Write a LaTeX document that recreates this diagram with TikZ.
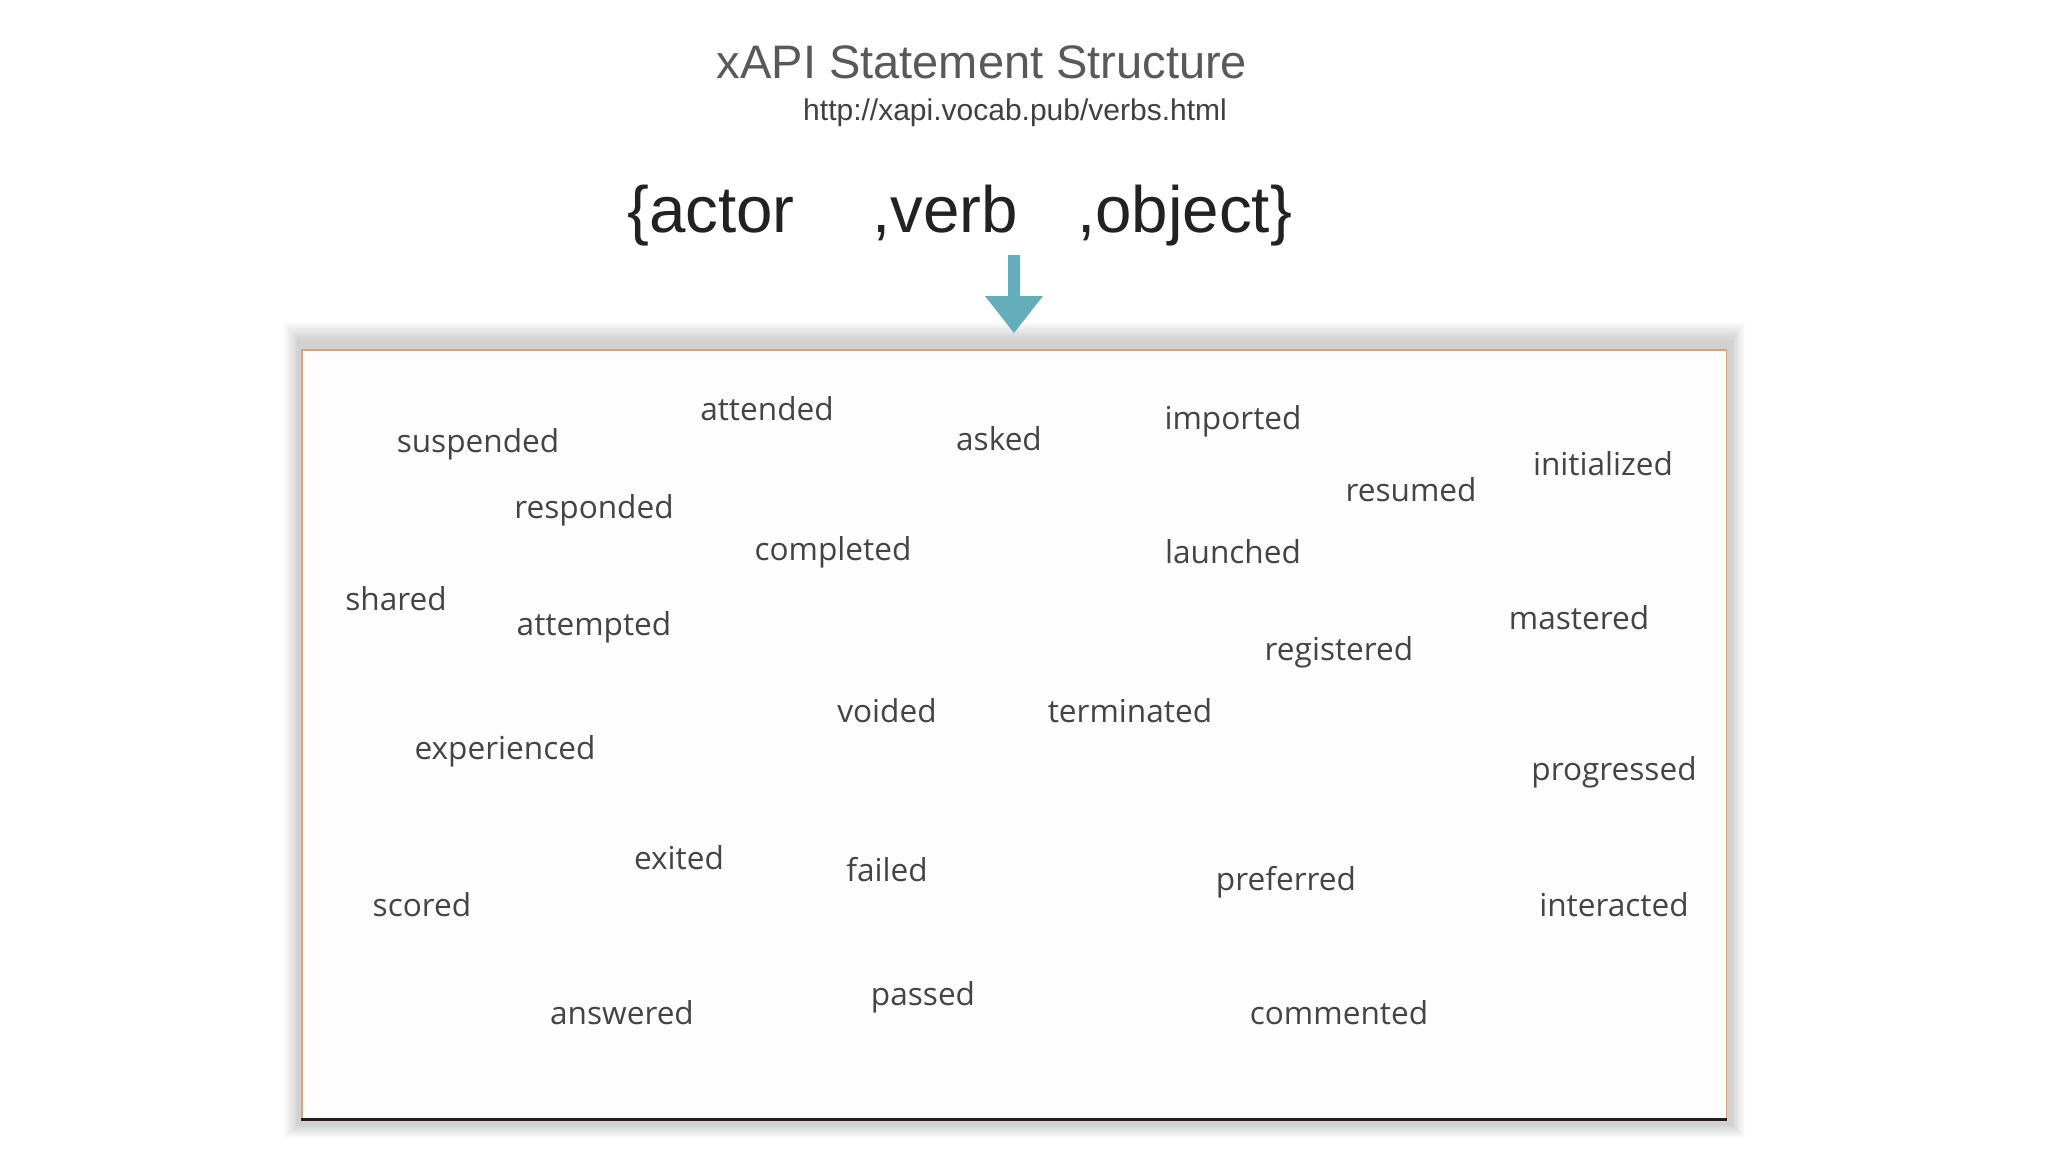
\documentclass[tikz,border=0pt]{standalone}
\usepackage{fontspec}
\setmainfont{Liberation Sans}
\newfontfamily\verbfont{Open Sans}
\definecolor{titlegray}{HTML}{595959}
\definecolor{urlgray}{HTML}{404040}
\definecolor{bracedark}{HTML}{222222}
\definecolor{verbgray}{HTML}{444444}
\definecolor{arrowteal}{HTML}{63AEBA}
\definecolor{shadowC}{HTML}{C8CACC}
\definecolor{edgetan}{HTML}{D8A27A}
\definecolor{edgedark}{HTML}{2B1B12}
\definecolor{paper}{HTML}{FDFDFD}
\tikzset{
  verbword/.style={inner sep=0pt, yshift=-3pt, text=verbgray, font=\verbfont\fontsize{31.6}{36}\selectfont},
  bracetext/.style={inner sep=0pt, anchor=base west, text=bracedark, font=\fontsize{65.5}{75}\selectfont},
}
\begin{document}
\begin{tikzpicture}[x=1pt,y=-1pt]
\useasboundingbox (0,0) rectangle (2048,1152);
\fill[white] (0,0) rectangle (2048,1152);
% title
\node[inner sep=0pt, anchor=base, text=titlegray, font=\fontsize{47}{54}\selectfont] (title) at (982,78) {xAPI Statement Structure};
\node[inner sep=0pt, anchor=base, text=urlgray, font=\fontsize{30}{36}\selectfont] (url) at (1015,120) {http://xapi.vocab.pub/verbs.html};
% statement
\node[bracetext] (actor) at (627,232) {\{actor};
\node[bracetext] (verb) at (872,232) {,verb};
\node[bracetext] (object) at (1077,232) {,object\}};
% soft box shadow
\foreach \i in {0,...,9} {
  \fill[black, opacity=0.017] (283+\i*1.5,322+\i*1.6) rectangle (1745-\i*1.2,1138-\i*1.2);
}
\fill[shadowC, opacity=0.4] (296,340) rectangle (1733,1126);
\node[draw=none, fill=paper, inner sep=0pt, anchor=north west, minimum width=1424pt, minimum height=769pt] (box) at (302,350) {};
\draw[edgetan, line width=1.1pt] (box.south west) -- (box.north west) -- (box.north east) -- (box.south east);
\draw[edgedark, line width=3pt] ([xshift=-1pt]box.south west) -- ([xshift=1pt]box.south east);
% arrow
\fill[arrowteal] (1008,255) -- (1020,255) -- (1020,296) -- (1043,296) -- (1014,333) -- (985,296) -- (1008,296) -- cycle;
% verbs
\node[verbword] (v1) at (478,441) {suspended};
\node[verbword] (v2) at (767,406) {attended};
\node[verbword] (v3) at (999,436) {asked};
\node[verbword] (v4) at (1233,418) {imported};
\node[verbword] (v5) at (1603,461) {initialized};
\node[verbword] (v6) at (1411,487) {resumed};
\node[verbword] (v7) at (594,507) {responded};
\node[verbword] (v8) at (833,549) {completed};
\node[verbword] (v9) at (1233,549) {launched};
\node[verbword] (v10) at (396,596) {shared};
\node[verbword] (v11) at (594,624) {attempted};
\node[verbword] (v12) at (1579,615) {mastered};
\node[verbword] (v13) at (1339,649) {registered};
\node[verbword] (v14) at (887,708) {voided};
\node[verbword] (v15) at (1130,708) {terminated};
\node[verbword] (v16) at (505,748) {experienced};
\node[verbword] (v17) at (1614,769) {progressed};
\node[verbword] (v18) at (679,855) {exited};
\node[verbword] (v19) at (887,867) {failed};
\node[verbword] (v20) at (1286,879) {preferred};
\node[verbword] (v21) at (422,902) {scored};
\node[verbword] (v22) at (1614,902) {interacted};
\node[verbword] (v23) at (622,1010) {answered};
\node[verbword] (v24) at (923,994) {passed};
\node[verbword] (v25) at (1339,1010) {commented};
\end{tikzpicture}
\end{document}
